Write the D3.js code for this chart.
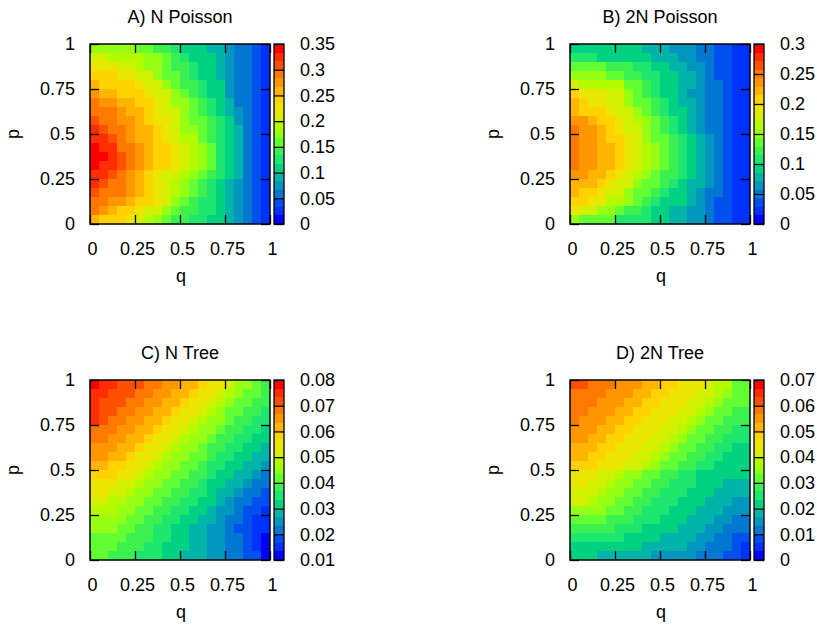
<!DOCTYPE html>
<html>
<head>
<meta charset="utf-8">
<script src="https://cdn.jsdelivr.net/npm/d3@7"></script>
<style>
  body { margin: 0; background: #fff; }
  svg { display: block; font-family: "Liberation Sans", Arial, sans-serif; }
  .axis text { font-size: 18px; fill: #000; }
  .axis line { stroke: #000; stroke-width: 1.3; }
  .label { font-size: 18px; fill: #000; }
</style>
</head>
<body>
<svg id="chart" width="817" height="628"></svg>
<script>
const qTicks = [0, 0.25, 0.5, 0.75, 1];
const pTicks = [0, 0.25, 0.5, 0.75, 1];

// colour steps of the palette, lowest value first
const palette = [
  "#0000ff", "#0032ff", "#0050f0", "#0078d2", "#0096be", "#00b4aa", "#00d282",
  "#1ee66e", "#3cf050", "#64ff32", "#96ff14", "#b4fa00", "#d2f000", "#ebe600",
  "#ffd200", "#ffb400", "#ff9600", "#ff7800", "#ff5000", "#ff2d00", "#ff0000"
];

// rows go from p = 1 (top) down to p = 0, columns from q = 0 to q = 1

// hundredths
const nPoisson = [
  [18,18,18,18,18,16,16,14,14,13,11,11,11,9,9,8,6,6,4,3],
  [21,21,19,19,19,19,18,18,16,14,13,11,11,11,9,8,6,6,4,3],
  [23,23,23,21,21,19,18,18,16,14,14,13,11,11,9,8,6,6,4,3],
  [24,24,24,23,23,21,21,18,16,16,14,13,11,11,9,8,6,6,4,3],
  [26,24,24,24,24,23,21,21,18,16,14,14,13,11,11,8,6,6,4,3],
  [28,26,26,24,24,24,23,21,21,18,16,14,13,11,11,8,6,6,4,3],
  [29,28,28,26,26,24,24,23,21,18,18,16,14,13,11,9,6,6,4,3],
  [29,29,29,28,26,26,24,23,21,21,18,16,14,13,11,9,8,6,4,3],
  [31,29,29,28,28,26,24,23,23,21,18,16,16,14,13,11,8,6,4,3],
  [33,31,29,29,28,26,26,24,23,21,18,18,16,14,13,11,9,6,4,3],
  [33,33,31,29,28,26,26,24,23,21,19,19,16,14,13,11,9,6,4,3],
  [34,33,33,29,29,28,26,24,24,23,21,19,18,16,13,11,9,6,4,3],
  [34,34,33,31,29,28,26,24,24,23,21,19,18,16,13,11,9,6,4,3],
  [34,33,33,31,29,28,26,24,24,23,21,19,18,16,13,11,9,6,4,3],
  [33,33,31,29,28,26,24,23,21,21,19,18,16,14,13,11,9,6,4,3],
  [33,31,29,29,28,26,24,23,21,19,18,16,14,13,11,9,8,6,4,3],
  [31,29,29,29,28,26,24,23,21,19,18,16,14,13,11,9,8,6,4,3],
  [29,29,28,28,26,24,24,23,21,18,16,14,13,13,11,9,8,6,4,3],
  [29,28,26,24,24,23,21,21,18,16,14,14,13,13,11,9,8,6,4,3],
  [26,24,24,24,23,21,19,18,16,14,14,13,13,11,11,9,8,6,4,3]
];

// hundredths
const twoNPoisson = [
  [9,9,9,9,9,9,9,9,8,8,8,6,6,6,5,5,4,4,2,2],
  [11,11,11,9,9,9,9,9,9,8,8,8,6,6,5,5,4,4,2,2],
  [14,14,14,14,12,12,12,11,11,9,9,8,8,6,6,5,4,4,2,2],
  [15,15,15,15,14,14,12,12,11,11,9,9,8,8,6,5,4,4,2,2],
  [18,16,16,16,16,16,14,14,12,11,9,9,8,8,6,5,5,4,2,2],
  [21,19,19,19,18,18,15,14,12,11,9,9,8,6,6,5,5,4,2,2],
  [22,21,19,19,18,18,15,14,14,12,11,9,8,8,6,5,5,4,2,2],
  [22,21,21,21,19,18,18,15,14,12,11,9,9,8,6,5,5,4,2,2],
  [24,24,22,21,21,19,18,16,15,14,12,11,9,8,6,5,5,4,2,2],
  [25,24,24,22,21,19,18,18,15,14,12,11,9,8,6,5,5,4,2,2],
  [25,24,24,22,21,21,19,18,15,14,14,12,11,9,8,6,5,4,2,2],
  [25,24,24,22,22,21,19,18,16,15,14,12,11,9,8,6,5,4,2,2],
  [25,24,24,22,22,21,19,18,16,15,14,12,11,9,8,6,5,4,2,2],
  [25,24,24,22,22,21,19,18,16,15,14,12,11,9,8,6,5,4,2,2],
  [24,24,22,22,21,19,18,16,15,14,12,12,11,9,8,6,5,4,2,2],
  [22,22,22,21,19,18,18,15,14,14,12,11,9,8,8,6,5,4,2,2],
  [22,21,21,19,18,18,15,14,14,12,11,9,9,8,6,5,5,4,2,2],
  [21,21,19,19,16,16,15,14,12,11,9,9,9,8,6,5,4,4,2,2],
  [19,18,18,15,15,14,12,12,11,9,9,8,8,6,6,5,4,4,2,2],
  [15,14,14,14,14,11,11,11,11,9,9,8,8,6,6,5,4,4,2,2]
];

// thousandths
const nTree = [
  [78,75,75,72,72,72,68,68,65,65,62,62,58,55,55,52,45,45,42,38],
  [75,75,72,72,72,68,68,65,65,62,62,58,55,55,52,48,45,42,42,38],
  [75,72,72,72,68,68,65,65,62,62,58,55,55,52,48,45,42,42,38,38],
  [75,72,72,68,68,65,65,62,62,58,55,55,52,48,45,42,42,38,38,35],
  [75,72,68,68,65,65,62,62,58,55,55,52,48,45,45,42,38,38,35,35],
  [68,68,68,65,65,62,62,58,55,55,52,48,45,45,42,38,38,35,35,32],
  [68,68,65,65,62,62,58,55,55,52,48,45,45,42,38,38,35,35,32,32],
  [65,65,65,62,62,58,55,55,52,48,45,45,42,38,38,35,35,32,32,28],
  [65,65,62,62,58,55,55,52,48,45,45,42,42,38,35,35,32,32,28,28],
  [62,62,58,58,55,55,52,48,45,45,42,42,38,35,35,32,32,28,28,25],
  [58,58,58,55,55,52,48,45,45,42,42,38,38,35,32,32,28,28,25,22],
  [55,55,55,52,52,48,45,45,42,42,38,38,35,32,32,28,28,25,22,22],
  [55,55,52,52,48,45,45,42,42,38,38,35,35,32,28,28,25,22,22,18],
  [52,52,48,48,45,45,42,42,38,38,35,35,32,32,28,25,22,22,18,18],
  [48,48,48,45,45,42,42,38,38,35,35,32,32,28,25,25,22,18,18,15],
  [45,45,45,45,42,42,38,38,35,35,32,32,28,28,25,22,22,18,15,15],
  [45,45,45,42,42,38,38,35,35,32,32,28,28,25,25,22,18,18,15,15],
  [42,42,42,42,38,38,38,35,35,32,32,28,28,25,25,22,22,18,15,12],
  [42,42,42,38,38,38,35,35,32,32,32,28,28,25,25,22,22,18,15,12],
  [42,42,38,38,38,35,35,35,32,32,28,28,28,25,25,22,22,18,18,12]
];

// thousandths
const twoNTree = [
  [62,62,58,58,58,55,55,55,52,52,48,48,45,45,45,42,38,38,32,32],
  [58,58,58,58,55,55,55,52,52,48,48,45,45,45,42,42,38,35,32,32],
  [58,58,58,55,55,55,52,52,48,48,45,45,45,42,42,38,35,32,32,32],
  [58,58,55,55,55,52,52,48,48,45,45,45,42,42,38,35,32,32,28,28],
  [58,55,55,55,52,52,48,48,45,45,45,42,42,38,35,32,32,28,28,28],
  [55,55,55,52,52,48,48,45,45,45,42,42,38,35,32,32,28,28,25,25],
  [55,55,52,52,48,48,45,45,45,42,42,38,35,32,32,28,28,25,25,25],
  [52,52,52,48,48,45,45,45,42,42,38,35,32,32,28,28,25,25,22,22],
  [52,52,48,48,45,45,45,42,42,38,35,32,32,28,28,25,25,22,22,22],
  [48,48,48,45,45,45,42,42,38,35,32,32,28,28,25,25,22,22,22,22],
  [45,45,45,42,42,38,35,35,32,32,28,28,25,25,22,22,22,22,22,22],
  [45,45,42,42,38,35,35,32,32,28,28,25,25,25,22,22,22,18,18,18],
  [42,42,42,38,35,35,32,32,28,28,25,25,25,22,22,22,18,18,18,18],
  [42,42,38,35,35,32,32,28,28,25,25,25,22,22,22,18,18,18,15,15],
  [35,35,35,35,32,32,28,28,25,25,25,22,22,22,18,18,18,15,15,15],
  [32,32,32,32,28,28,28,25,25,25,22,22,22,18,18,18,15,15,12,12],
  [28,28,28,28,28,25,25,25,22,22,22,22,18,18,18,15,15,12,12,12],
  [25,25,25,25,25,25,22,22,22,22,18,18,18,18,15,15,12,12,8,8],
  [22,22,22,22,22,22,22,22,18,18,18,18,18,15,15,12,12,12,8,5],
  [22,22,22,18,18,18,18,18,18,15,15,15,15,15,12,12,12,8,8,5]
];

const cbTicksA = [0, 0.05, 0.1, 0.15, 0.2, 0.25, 0.3, 0.35];
const cbTicksB = [0, 0.05, 0.1, 0.15, 0.2, 0.25, 0.3];
const cbTicksC = [0.01, 0.02, 0.03, 0.04, 0.05, 0.06, 0.07, 0.08];
const cbTicksD = [0, 0.01, 0.02, 0.03, 0.04, 0.05, 0.06, 0.07];

const panels = [
  { title: "A) N Poisson", values: nPoisson, unit: 100, ticks: cbTicksA, dx: 0, dy: 0 },
  { title: "B) 2N Poisson", values: twoNPoisson, unit: 100, ticks: cbTicksB, dx: 480, dy: 0 },
  { title: "C) N Tree", values: nTree, unit: 1000, ticks: cbTicksC, dx: 0, dy: 336 },
  { title: "D) 2N Tree", values: twoNTree, unit: 1000, ticks: cbTicksD, dx: 480, dy: 336 }
];

const svg = d3.select("#chart");
const plotLeft = 90, plotTop = 44, size = 180;
const cbX = 274, cbW = 10, tickLen = 9;
const fmt = d3.format("~g");

panels.forEach(drawPanel);

function drawPanel(d) {
  const g = svg.append("g").attr("transform", `translate(${d.dx},${d.dy})`);

  const n = d.values.length;
  const col = d3.scaleBand().domain(d3.range(n)).range([plotLeft, plotLeft + size]);
  const row = d3.scaleBand().domain(d3.range(n)).range([plotTop, plotTop + size]);
  const x = d3.scaleLinear().domain([0, 1]).range([plotLeft, plotLeft + size]);
  const y = d3.scaleLinear().domain([0, 1]).range([plotTop + size, plotTop]);

  const lo = d.ticks[0], hi = d.ticks[d.ticks.length - 1];
  const color = d3.scaleQuantize().domain([lo, hi]).range(palette);
  const cb = d3.scaleLinear().domain([lo, hi]).range([plotTop + size, plotTop]);

  // cells
  g.append("g")
    .selectAll("g")
    .data(d.values)
    .join("g")
    .attr("transform", (_, i) => `translate(0,${row(i)})`)
    .selectAll("rect")
    .data((r) => r)
    .join("rect")
    .attr("x", (_, j) => col(j))
    .attr("width", col.bandwidth())
    .attr("height", row.bandwidth())
    .attr("fill", (v) => color(v / d.unit));

  // inside ticks on all four sides
  g.append("g").attr("class", "axis")
    .attr("transform", `translate(${plotLeft},0)`)
    .call(d3.axisLeft(y).tickValues(pTicks).tickSize(-tickLen).tickPadding(15).tickFormat(fmt))
    .call((a) => a.select(".domain").remove());
  g.append("g").attr("class", "axis")
    .attr("transform", `translate(${plotLeft + size},0)`)
    .call(d3.axisRight(y).tickValues(pTicks).tickSize(-tickLen).tickFormat(""))
    .call((a) => a.select(".domain").remove());
  g.append("g").attr("class", "axis")
    .attr("transform", `translate(0,${plotTop + size})`)
    .call(d3.axisBottom(x).tickValues(qTicks).tickSize(-tickLen).tickPadding(18).tickFormat(fmt))
    .call((a) => a.select(".domain").remove())
    .call((a) => a.selectAll("text").attr("dx", 2));
  g.append("g").attr("class", "axis")
    .attr("transform", `translate(0,${plotTop})`)
    .call(d3.axisTop(x).tickValues(qTicks).tickSize(-tickLen).tickFormat(""))
    .call((a) => a.select(".domain").remove());

  g.append("rect")
    .attr("x", plotLeft).attr("y", plotTop)
    .attr("width", size).attr("height", size)
    .attr("fill", "none").attr("stroke", "#000").attr("stroke-width", 1.5);

  // colour box
  g.append("g")
    .selectAll("rect")
    .data(palette)
    .join("rect")
    .attr("shape-rendering", "crispEdges")
    .attr("x", cbX)
    .attr("width", cbW)
    .attr("y", (c) => cb(color.invertExtent(c)[1]))
    .attr("height", (c) => cb(color.invertExtent(c)[0]) - cb(color.invertExtent(c)[1]))
    .attr("fill", (c) => c);

  g.append("g").attr("class", "axis")
    .attr("transform", `translate(${cbX + cbW},0)`)
    .call(d3.axisRight(cb).tickValues(d.ticks).tickSize(-cbW).tickPadding(16).tickFormat(fmt))
    .call((a) => a.select(".domain").remove());

  g.append("rect")
    .attr("x", cbX).attr("y", plotTop)
    .attr("width", cbW).attr("height", size)
    .attr("fill", "none").attr("stroke", "#000").attr("stroke-width", 1.3);

  g.append("text").attr("class", "label")
    .attr("x", plotLeft + size / 2).attr("y", 23)
    .attr("text-anchor", "middle")
    .text(d.title);

  g.append("text").attr("class", "label")
    .attr("x", plotLeft + size / 2 + 1).attr("y", 282)
    .attr("text-anchor", "middle")
    .text("q");

  g.append("text").attr("class", "label")
    .attr("transform", `translate(19,${plotTop + size / 2}) rotate(-90)`)
    .attr("text-anchor", "middle")
    .text("p");
}
</script>
</body>
</html>
